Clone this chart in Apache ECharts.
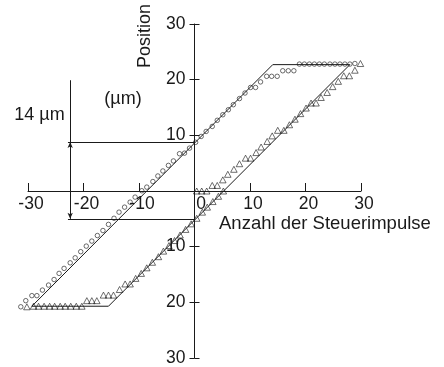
<!DOCTYPE html>
<html><head><meta charset="utf-8">
<script src="https://cdn.jsdelivr.net/npm/echarts@6/dist/echarts.min.js"></script>
<style>html,body{margin:0;padding:0;background:#fff}#c{width:444px;height:367px}</style>
</head><body><div id="c"></div>
<script>
// ---- data ----
const axisTicks = [-30, -20, -10, 0, 10, 20, 30];

const circleX = [-31.3,-30.4,-29.3,-28.4,-27.4,-26.3,-25.3,-24.4,-23.5,-22.4,-21.5,-20.5,-19.5,-18.5,-17.5,-16.5,-15.5,-14.5,-13.6,-12.6,-11.6,-10.7,-9.5,-8.6,
  -7.5,-6.6,-5.7,-4.7,-3.8,-2.7,-1.8,-0.9,
  0.2,1.2,2.1,3.2,4.1,5.1,6.1,7.0,8.1,9.1,10.1,11.0,11.9,13.0,13.9,14.9,15.9,16.9,17.9,
  18.9,19.8,20.7,21.6,22.5,23.4,24.4,25.3,26.2,27.1,28.0,28.9];
const circleY = [-20.8,-19.7,-18.8,-18.8,-17.8,-16.9,-15.9,-14.8,-13.9,-12.9,-12.0,-10.9,-9.9,-9.0,-8.0,-7.1,-6.0,-4.9,-3.8,-2.9,-2.0,-1.1,0.05,0.7,
  1.7,2.7,3.6,4.6,5.4,6.7,6.8,7.7,
  8.75,9.8,10.7,11.6,12.7,13.7,14.6,15.5,16.6,17.6,18.6,18.6,19.6,20.6,20.6,20.6,21.6,21.6,21.6,
  22.8,22.8,22.8,22.8,22.8,22.8,22.8,22.8,22.8,22.8,22.8,22.9];

const triLowX = [-30.2,-29.0,-28.1,-27.1,-26.1,-25.2,-24.2,-23.3,-22.3,-21.3,-20.3,-19.4,-18.5,-17.6,-16.4,-15.5,-14.6,-13.5,-12.5,-11.6,
  -10.6,-9.6,-8.6,-7.6,-6.5,-5.6,-4.6,-3.6,-2.6,-1.6,-0.6,0.4,1.4,2.3,3.3,4.3,5.2];
const triLowY = [-20.8,-20.7,-20.7,-20.7,-20.7,-20.7,-20.7,-20.7,-20.7,-20.7,-20.7,-19.7,-19.7,-19.7,-18.7,-18.7,-18.7,-17.7,-16.7,-16.7,
  -15.7,-14.8,-13.8,-12.8,-11.8,-10.8,-9.8,-8.9,-7.9,-6.9,-5.9,-4.9,-3.8,-2.9,-1.9,-0.95,0];

const triUpX = [0.4,1.3,2.2,3.2,4.1,5.1,6.0,7.1,8.1,9.2,10.1,11.1,12.0,13.1,14.0,15.0,16.1,17.1,18.1,19.1,20.1,21.0,21.9,22.8,23.9,24.9,25.9,26.9,27.9,28.9,29.9];
const triUpY = [0,0,0,1.0,1.0,2.0,3.0,3.9,4.9,5.9,5.9,6.9,7.9,8.9,9.9,10.9,10.9,11.9,12.9,13.9,14.9,15.8,15.8,16.8,17.7,18.75,19.7,20.7,20.7,21.7,22.9];

// hysteresis parallelogram corners
const boxX = [-29.3, -15.5, 28.0, 14.1, -29.3];
const boxY = [-20.7, -20.7, 22.7, 22.7, -20.7];

// 14 µm annotation
const annX = -22.4, annLeft = -22.8, annTop = 19.9, annHigh = 8.8, annLow = -5.0;

// ---- chart ----
const zip = (xs, ys) => xs.map((x, i) => [x, ys[i]]);
const FONT = 'Liberation Sans, Arial, Helvetica, sans-serif';
const INK = '#1a1a1a';

const G = {left: 28, right: 83, top: 24, bottom: 9};
const W = 444 - G.left - G.right, H = 367 - G.top - G.bottom;
const xMin = axisTicks[0], xMax = axisTicks[axisTicks.length - 1];
// offsets that put the axes through the origin
const yAxisOffset = -W * (0 - xMin) / (xMax - xMin);
const xAxisOffset = -H * (0 - xMin) / (xMax - xMin);

const chart = echarts.init(document.getElementById('c'), null, {renderer: 'canvas'});
const axisCommon = {type: 'value', min: xMin, max: xMax, interval: 10, splitLine: {show: false}};

chart.setOption({
  backgroundColor: '#fff',
  animation: false,
  grid: Object.assign({outerBoundsMode: 'none', containLabel: false}, G),
  xAxis: [
    Object.assign({}, axisCommon, {
      position: 'bottom', offset: xAxisOffset,
      axisLine: {onZero: false, lineStyle: {color: INK, width: 1}},
      axisTick: {inside: true, length: 8, lineStyle: {color: INK, width: 1}},
      axisLabel: {
        margin: 4, fontSize: 17.5, fontFamily: FONT, color: INK,
        formatter: v => v === 0 ? '{z|0}' : '{n|' + v + '}',
        rich: {z: {padding: [0, 0, 0, 13], fontSize: 17.5, fontFamily: FONT, color: INK},
               n: {padding: [0, 0, 0, 6], fontSize: 17.5, fontFamily: FONT, color: INK}}
      }
    })
  ],
  yAxis: [
    Object.assign({}, axisCommon, {
      position: 'left', offset: yAxisOffset,
      axisLine: {onZero: false, lineStyle: {color: INK, width: 1}},
      axisTick: {inside: false, length: 5, lineStyle: {color: INK, width: 1}},
      axisLabel: {margin: 9, fontSize: 17.5, fontFamily: FONT, color: INK,
        formatter: v => v === 0 ? '' : String(Math.abs(v))}
    }),
    Object.assign({}, axisCommon, {
      position: 'left', offset: yAxisOffset,
      axisLine: {show: false, onZero: false},
      axisTick: {inside: true, length: 5, lineStyle: {color: INK, width: 1}},
      axisLabel: {show: false}
    })
  ],
  series: [
    {
      type: 'line', data: zip(boxX, boxY), showSymbol: false, silent: true, clip: false,
      lineStyle: {color: INK, width: 1},
      markLine: {
        silent: true, symbol: 'none', animation: false,
        label: {show: false},
        lineStyle: {color: INK, width: 1, type: 'solid'},
        data: [
          [{coord: [annX, annTop]}, {coord: [annX, annHigh]}],
          [{coord: [annX, annHigh], symbol: 'arrow', symbolSize: [4, 6]}, {coord: [annX, annLow], symbol: 'arrow', symbolSize: [4, 6]}],
          [{coord: [annLeft, annHigh]}, {coord: [0, annHigh]}],
          [{coord: [annLeft, annLow]}, {coord: [0, annLow]}]
        ]
      }
    },
    {
      type: 'scatter', data: zip(circleX, circleY), symbol: 'circle', symbolSize: 4.5, silent: true, clip: false,
      itemStyle: {color: 'transparent', borderColor: INK, borderWidth: 0.8}
    },
    {
      type: 'scatter', data: zip(triLowX, triLowY).concat(zip(triUpX, triUpY)), symbol: 'triangle', symbolSize: [6.5, 6], silent: true, clip: false,
      itemStyle: {color: 'transparent', borderColor: INK, borderWidth: 0.8}
    }
  ],
  graphic: [
    {type: 'text', x: 145, y: 36, rotation: Math.PI / 2,
     style: {text: 'Position', font: '18px ' + FONT, fill: INK, textAlign: 'center', textVerticalAlign: 'middle', align: 'center', verticalAlign: 'middle'}},
    {type: 'text', x: 123, y: 99.5,
     style: {text: '(µm)', font: '18px ' + FONT, fill: INK, textAlign: 'center', textVerticalAlign: 'middle', align: 'center', verticalAlign: 'middle'}},
    {type: 'text', x: 39.5, y: 115.5,
     style: {text: '14 µm', font: '18px ' + FONT, fill: INK, textAlign: 'center', textVerticalAlign: 'middle', align: 'center', verticalAlign: 'middle'}},
    {type: 'text', x: 219, y: 224,
     style: {text: 'Anzahl der Steuerimpulse', font: '18.5px ' + FONT, fill: INK, textAlign: 'left', textVerticalAlign: 'middle', align: 'left', verticalAlign: 'middle'}}
  ]
});
</script></body></html>
